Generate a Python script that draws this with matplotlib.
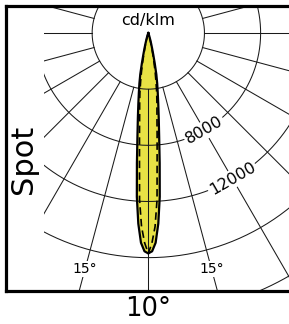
import numpy as np
import matplotlib
matplotlib.use("Agg")
import matplotlib.pyplot as plt

# ---- data ----
angles_deg = [0, 1, 2, 3, 4, 5, 6, 7, 8, 9, 10, 11, 12, 13, 14, 15, 16, 17, 18, 19, 20, 25, 30]
c0_c180 = [15700, 15550, 14950, 13600, 11700, 9300, 7400, 6100, 5100, 4300, 3650, 3000, 2200,
           1550, 1100, 780, 520, 340, 210, 130, 80, 20, 0]
c90_c270 = [15700, 14950, 13800, 11900, 9000, 7200, 5900, 5050, 4300, 3500, 2800, 2100, 1500,
            1100, 750, 500, 320, 200, 120, 70, 40, 10, 0]
ring_values = [4000, 8000, 12000, 16000, 20000, 24000]
ring_labels = ["8000", "12000"]
ring_label_values = [8000, 12000]
radial_angles = list(range(-180, 181, 15))
angle_label_text = ["15°", "15°"]
angle_label_angles = [-15, 15]
title_unit = "cd/klm"
side_label = "Spot"
beam_label = "10°"

# ---- layout ----
W, H = 289, 324
fig = plt.figure(figsize=(W / 100, H / 100), dpi=100)
plt.rcParams['font.family'] = ['DejaVu Sans']

def fr(x0, y0, x1, y1):
    return [x0 / W, 1 - y1 / H, (x1 - x0) / W, (y1 - y0) / H]

k = 0.01404          # px per cd/klm
ox, oy = 148.3, 33.0  # origin pixel
L, T, R, B = 44, 5.5, 289, 290.5

ax = fig.add_axes(fr(L, T, R, B))
ax.set_xlim((L - ox) / k, (R - ox) / k)
ax.set_ylim(-(B - oy) / k, (oy - T) / k)
ax.axis('off')

def polar_xy(theta_deg, r):
    t = np.radians(np.asarray(theta_deg, dtype=float))
    r = np.asarray(r, dtype=float)
    return r * np.sin(t), -r * np.cos(t)

# beam curves (mirror to both sides)
a = np.array(angles_deg, dtype=float)
full_a = np.concatenate([-a[::-1], a[1:]])
s1 = np.array(c0_c180, dtype=float)
s2 = np.array(c90_c270, dtype=float)
full1 = np.concatenate([s1[::-1], s1[1:]])
full2 = np.concatenate([s2[::-1], s2[1:]])
x1, y1 = polar_xy(full_a, full1)
x2, y2 = polar_xy(full_a, full2)

yellow = '#e8e245'
ax.fill(x1, y1, color=yellow, zorder=1, lw=0)

# grid
gc = '#1a1a1a'
tt = np.linspace(-180, 180, 721)
for rv in ring_values:
    gx, gy = polar_xy(tt, np.full_like(tt, rv))
    ax.plot(gx, gy, color=gc, lw=0.75, zorder=2)
for ang in radial_angles:
    gx, gy = polar_xy([ang, ang], [ring_values[0], 40000])
    ax.plot(gx, gy, color=gc, lw=0.75, zorder=2)

# outlines
ax.plot(x1, y1, color='black', lw=1.6, zorder=3, solid_joinstyle='round')
ax.plot(x2, y2, color='black', lw=1.2, ls=(0, (4.5, 2.5)), zorder=3)

# ring labels
for txt, rv in zip(ring_labels, ring_label_values):
    lx, ly = polar_xy(30, rv)
    ax.text(lx, ly, txt, rotation=30, rotation_mode='anchor', ha='center', va='center',
            fontsize=11.5, zorder=4,
            bbox=dict(boxstyle='square,pad=0.1', fc='white', ec='none'))

# angle labels
for txt, ang in zip(angle_label_text, angle_label_angles):
    lx, ly = polar_xy(ang, 17400)
    ax.text(lx, ly, txt, ha='center', va='center', fontsize=10, zorder=4,
            bbox=dict(boxstyle='square,pad=0.1', fc='white', ec='none'))

ax.text(0, (oy - 20) / k, title_unit, ha='center', va='center', fontsize=11.5, zorder=4)

# frame
fr_ax = fig.add_axes(fr(5.7, T, 320, B))
fr_ax.set_facecolor('none')
fr_ax.set_xticks([])
fr_ax.set_yticks([])
for side in ['left', 'top', 'bottom']:
    fr_ax.spines[side].set_linewidth(2.3)
    fr_ax.spines[side].set_color('black')
fr_ax.spines['right'].set_visible(False)

fig.text(24 / W, 1 - 159 / H, side_label, rotation=90, ha='center', va='center', fontsize=22)
fig.text(148 / W, 1 - 309 / H, beam_label, ha='center', va='center', fontsize=18.5)

fig.savefig('out.png', dpi=100)
